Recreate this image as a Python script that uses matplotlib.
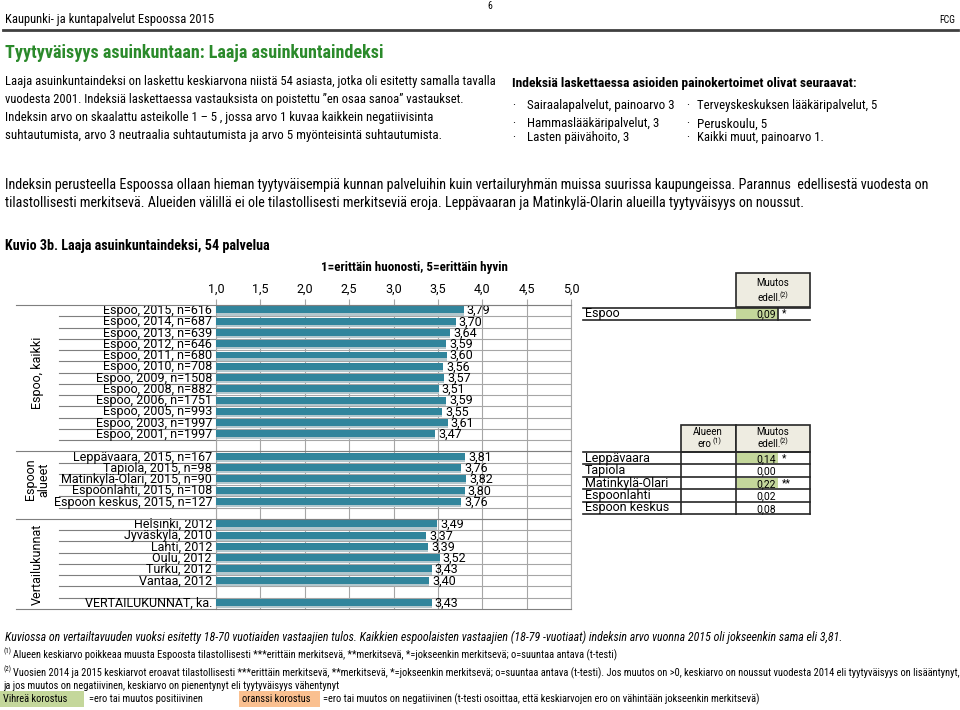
import numpy as np
import matplotlib
matplotlib.use("Agg")
import matplotlib.pyplot as plt
from matplotlib import font_manager
from matplotlib.lines import Line2D
from matplotlib.patches import Rectangle
from matplotlib.transforms import blended_transform_factory

# --- data ---
espoo_labels = ["Espoo, 2015, n=616", "Espoo, 2014, n=687", "Espoo, 2013, n=639",
                "Espoo, 2012, n=646", "Espoo, 2011, n=680", "Espoo, 2010, n=708",
                "Espoo, 2009, n=1508", "Espoo, 2008, n=882", "Espoo, 2006, n=1751",
                "Espoo, 2005, n=993", "Espoo, 2003, n=1997", "Espoo, 2001, n=1997"]
espoo_values = [3.79, 3.70, 3.64, 3.59, 3.60, 3.56, 3.57, 3.51, 3.59, 3.55, 3.61, 3.47]

area_labels = ["Leppävaara, 2015, n=167", "Tapiola, 2015, n=98", "Matinkylä-Olari, 2015, n=90",
               "Espoonlahti, 2015, n=108", "Espoon keskus, 2015, n=127"]
area_values = [3.81, 3.76, 3.82, 3.80, 3.76]

city_labels = ["Helsinki, 2012", "Jyväskylä, 2010", "Lahti, 2012", "Oulu, 2012",
               "Turku, 2012", "Vantaa, 2012"]
city_values = [3.49, 3.37, 3.39, 3.52, 3.43, 3.40]

avg_label = "VERTAILUKUNNAT, ka."
avg_value = 3.43

group_names = ["Espoo, kaikki", "Espoon\nalueet", "Vertailukunnat"]

area_names = ["Leppävaara", "Tapiola", "Matinkylä-Olari", "Espoonlahti", "Espoon keskus"]
area_change = [0.14, 0.00, 0.22, 0.02, 0.08]
area_sig = ["*", "", "**", "", ""]
espoo_change = 0.09
espoo_sig = "*"

ticks = [1.0, 1.5, 2.0, 2.5, 3.0, 3.5, 4.0, 4.5, 5.0]

# fonts: a narrow one for the page text, a regular one for the chart
names = {f.name for f in font_manager.fontManager.ttflist}
NARROW = "DejaVu Sans"
for cand in ["Liberation Sans Narrow", "Roboto Condensed", "Roboto"]:
    if cand in names:
        NARROW = cand
        break
CHART = "Roboto" if "Roboto" in names else "DejaVu Sans"
plt.rcParams["font.family"] = [NARROW, "DejaVu Sans"]
CF = [CHART, "DejaVu Sans"]

W, H = 960, 710
fig = plt.figure(figsize=(W / 100, H / 100), dpi=100)
fig.patch.set_facecolor("white")

fits = []
foot = []


def T(x, y, s, width=None, **kw):
    kw.setdefault("va", "center")
    t = fig.text(x / W, 1 - y / H, s, **kw)
    if width:
        fits.append((t, width))
    return t


def hline(x0, x1, y, color="#262626", lw=1.0):
    fig.add_artist(Line2D([x0 / W, x1 / W], [1 - y / H, 1 - y / H],
                          transform=fig.transFigure, color=color, lw=lw))


def vline(x, y0, y1, color="#262626", lw=1.0):
    fig.add_artist(Line2D([x / W, x / W], [1 - y0 / H, 1 - y1 / H],
                          transform=fig.transFigure, color=color, lw=lw))


def box(x, y, w, h, fc, ec="none", lw=1.0):
    fig.add_artist(Rectangle((x / W, 1 - (y + h) / H), w / W, h / H,
                             transform=fig.transFigure, fc=fc, ec=ec, lw=lw))


# --- page header ---
T(490, 6, "6", fontsize=7, ha="center")
T(5, 20, "Kaupunki- ja kuntapalvelut Espoossa 2015", width=210, fontsize=9)
T(955, 20, "FCG", fontsize=7, ha="right")
hline(3, 958, 30, color="#404040", lw=2)

T(5, 53, "Tyytyväisyys asuinkuntaan: Laaja asuinkuntaindeksi", width=378,
  fontsize=13, fontweight="bold", color="#2b8a2b")

para = ["Laaja asuinkuntaindeksi on laskettu keskiarvona niistä 54 asiasta, jotka oli esitetty samalla tavalla",
        "vuodesta 2001. Indeksiä laskettaessa vastauksista on poistettu \u201den osaa sanoa\u201d vastaukset.",
        "Indeksin arvo on skaalattu asteikolle 1 \u2013 5 , jossa arvo 1 kuvaa kaikkein negatiivisinta",
        "suhtautumista, arvo 3 neutraalia suhtautumista ja arvo 5 myönteisintä suhtautumista."]
para_w = [492, 460, 430, 436]
for i, (s, w) in enumerate(zip(para, para_w)):
    T(5, 82 + i * 18, s, width=w, fontsize=9)

T(512, 83, "Indeksiä laskettaessa asioiden painokertoimet olivat seuraavat:", width=345,
  fontsize=9, fontweight="bold")
bul_left = ["Sairaalapalvelut, painoarvo 3", "Hammaslääkäripalvelut, 3", "Lasten päivähoito, 3"]
bul_right = ["Terveyskeskuksen lääkäripalvelut, 5", "Peruskoulu, 5", "Kaikki muut, painoarvo 1."]
bul_lw = [148, 133, 103]
bul_rw = [182, 70, 128]
for i, y in enumerate([106, 124, 138]):
    T(512, y, "\u00b7", fontsize=9)
    T(527, y, bul_left[i], width=bul_lw[i], fontsize=9)
    T(686, y, "\u00b7", fontsize=9)
    T(697, y, bul_right[i], width=bul_rw[i], fontsize=9)

T(5, 185, "Indeksin perusteella Espoossa ollaan hieman tyytyväisempiä kunnan palveluihin kuin "
          "vertailuryhmän muissa suurissa kaupungeissa. Parannus  edellisestä vuodesta on",
  width=930, fontsize=9)
T(5, 203, "tilastollisesti merkitsevä. Alueiden välillä ei ole tilastollisesti merkitseviä eroja. "
          "Leppävaaran ja Matinkylä-Olarin alueilla tyytyväisyys on noussut.",
  width=803, fontsize=9)

T(5, 246, "Kuvio 3b. Laaja asuinkuntaindeksi, 54 palvelua", width=266, fontsize=9, fontweight="bold")
T(414, 268, "1=erittäin huonosti, 5=erittäin hyvin", width=188, fontsize=9,
  fontweight="bold", ha="center")

# --- bar chart ---
rows = list(zip(espoo_labels, espoo_values)) + [None] + \
    list(zip(area_labels, area_values)) + [None] + \
    list(zip(city_labels, city_values)) + [None] + [(avg_label, avg_value)]
n = len(rows)
left_px, right_px, top_px, bot_px = 216, 571, 305, 609
ax = fig.add_axes([left_px / W, 1 - bot_px / H, (right_px - left_px) / W, (bot_px - top_px) / H])
ax.set_xlim(1, 5)
ax.set_ylim(n - 0.5, -0.5)
trans = blended_transform_factory(fig.transFigure, ax.transData)

grid_c = "#a6a6a6"
line_c = "#7f7f7f"
ax.set_axisbelow(True)
ax.grid(axis="x", color=grid_c, lw=0.8)
for b in np.arange(0.5, n - 1, 1.0):
    ax.axhline(b, color=grid_c, lw=0.8, zorder=0)
for sp in ["left", "right", "top"]:
    ax.spines[sp].set_color(grid_c)
ax.spines["bottom"].set_visible(False)

pos = [i for i, r in enumerate(rows) if r is not None]
vals = np.array([rows[i][1] for i in pos])
labs = [rows[i][0] for i in pos]
ax.barh(np.array(pos) + 0.1, vals - 1, left=1, height=0.68, color="#b3c7cd", zorder=2)
ax.barh(np.array(pos) - 0.06, vals - 1, left=1, height=0.62, color="#31859c", zorder=3)

ax.set_xticks(ticks)
ax.set_xticklabels([f"{t:.1f}".replace(".", ",") for t in ticks], fontsize=9, family=CF)
ax.tick_params(axis="x", top=True, bottom=False, labeltop=True, labelbottom=False,
               length=4, color=grid_c, pad=3)
ax.set_yticks([])

chart_texts = []
for p, v, lab in zip(pos, vals, labs):
    chart_texts.append(ax.text(212 / W, p, lab, transform=trans, ha="right", va="center",
                               fontsize=9, family=CF))
    chart_texts.append(ax.text(v + 0.035, p, f"{v:.2f}".replace(".", ","), ha="left",
                               va="center", fontsize=9, family=CF, zorder=4))

# label column lines
group_bounds = [-0.5, 12.5, 18.5, n - 0.5]
for b in np.arange(0.5, n - 1, 1.0):
    if b in group_bounds:
        continue
    ax.plot([59 / W, left_px / W], [b, b], transform=trans, color=line_c, lw=0.8, clip_on=False)
for b in group_bounds:
    ax.plot([16 / W, right_px / W], [b, b], transform=trans, color=line_c, lw=0.8,
            clip_on=False, zorder=5)

group_mid = [5.5, 15.0, 22.5]
for g, m in zip(group_names, group_mid):
    chart_texts.append(ax.text(37 / W, m, g, transform=trans, rotation=90, ha="center",
                               va="center", fontsize=9, family=CF, linespacing=1.1))

# --- tables ---
hdr_c = "#eeece1"
green = "#c4d79b"
orange = "#fac090"
tsize = 9
vsize = 7.5
hsize = 7

box(736, 273, 74, 34, hdr_c, ec="#262626", lw=1.2)
T(773, 283, "Muutos", fontsize=hsize, ha="center", family=CF)
T(769, 298, "edell.", fontsize=hsize, ha="center", family=CF)
T(784, 295, "(2)", fontsize=5, ha="center", family=CF)
box(736, 308, 42, 11, green)
hline(583, 810, 307.5, lw=1.2)
hline(583, 810, 320, lw=1.2)
vline(778, 307.5, 320, lw=1.2)
T(585, 313, "Espoo", fontsize=tsize, family=CF)
T(776, 314, f"{espoo_change:.2f}".replace(".", ","), fontsize=vsize, ha="right", family=CF)
T(782, 313, espoo_sig, fontsize=vsize, family=CF)

box(681, 425, 55, 27, hdr_c, ec="#262626", lw=1.2)
box(736, 425, 74, 27, hdr_c, ec="#262626", lw=1.2)
T(708, 432, "Alueen", fontsize=hsize, ha="center", family=CF)
T(704, 444, "ero", fontsize=hsize, ha="center", family=CF)
T(717, 441, "(1)", fontsize=5, ha="center", family=CF)
T(773, 432, "Muutos", fontsize=hsize, ha="center", family=CF)
T(769, 444, "edell.", fontsize=hsize, ha="center", family=CF)
T(784, 441, "(2)", fontsize=5, ha="center", family=CF)
rh = 12.4
y0 = 452
for i, (nm, ch, sg) in enumerate(zip(area_names, area_change, area_sig)):
    yt = y0 + i * rh
    if sg and ch > 0:
        box(737, yt + 1, 41, rh - 2, green)
    T(585, yt + rh / 2, nm, fontsize=tsize, family=CF)
    T(776, yt + rh / 2 + 1, f"{ch:.2f}".replace(".", ","), fontsize=vsize, ha="right", family=CF)
    if sg:
        T(782, yt + rh / 2, sg, fontsize=vsize, family=CF)
for i in range(len(area_names) + 1):
    hline(583, 810, y0 + i * rh, lw=1.2)
for x in [681, 736, 810]:
    vline(x, y0, y0 + len(area_names) * rh, lw=1.2)

# --- footnotes ---
T(5, 637, "Kuviossa on vertailtavuuden vuoksi esitetty 18-70 vuotiaiden vastaajien tulos. Kaikkien "
          "espoolaisten vastaajien (18-79 -vuotiaat) indeksin arvo vuonna 2015 oli jokseenkin sama eli 3,81.",
  width=836, fontsize=8, style="italic")
T(3, 651, "(1)", fontsize=5)
T(3, 669, "(2)", fontsize=5)
line2 = T(13, 673, "Vuosien 2014 ja 2015 keskiarvot eroavat tilastollisesti ***erittäin merkitsevä, "
                   "**merkitsevä, *=jokseenkin merkitsevä; o=suuntaa antava (t-testi). Jos muutos on >0, "
                   "keskiarvo on noussut vuodesta 2014 eli tyytyväisyys on lisääntynyt,", width=942, fontsize=7.5)
foot.append(T(13, 655, "Alueen keskiarvo poikkeaa muusta Espoosta tilastollisesti ***erittäin merkitsevä, "
                       "**merkitsevä, *=jokseenkin merkitsevä; o=suuntaa antava (t-testi)", fontsize=7.5))
foot.append(T(3, 686, "ja jos muutos on negatiivinen, keskiarvo on pienentynyt eli tyytyväisyys vähentynyt",
              fontsize=7.5))
box(0, 691, 84, 16, green)
foot.append(T(3, 699, "Vihreä korostus", fontsize=7.5))
foot.append(T(89, 699, "=ero tai muutos positiivinen", fontsize=7.5))
box(239, 691, 81, 16, orange)
foot.append(T(242, 699, "oranssi korostus", fontsize=7.5))
foot.append(T(323, 699, "=ero tai muutos on negatiivinen (t-testi osoittaa, että keskiarvojen ero on "
                        "vähintään jokseenkin merkitsevä)", fontsize=7.5))

# scale text to the widths seen in the picture
r = fig.canvas.get_renderer()
for t, w in fits:
    cur = t.get_window_extent(r).width
    t.set_fontsize(t.get_fontsize() * w / cur)
for t in foot:
    t.set_fontsize(line2.get_fontsize())

# chart labels: size from the first Espoo label
probe = chart_texts[0]
k = 109 / probe.get_window_extent(r).width
for t in chart_texts:
    t.set_fontsize(t.get_fontsize() * k)
for t in ax.get_xticklabels():
    t.set_fontsize(9 * k)

fig.savefig("out.png", dpi=100, facecolor="white")
